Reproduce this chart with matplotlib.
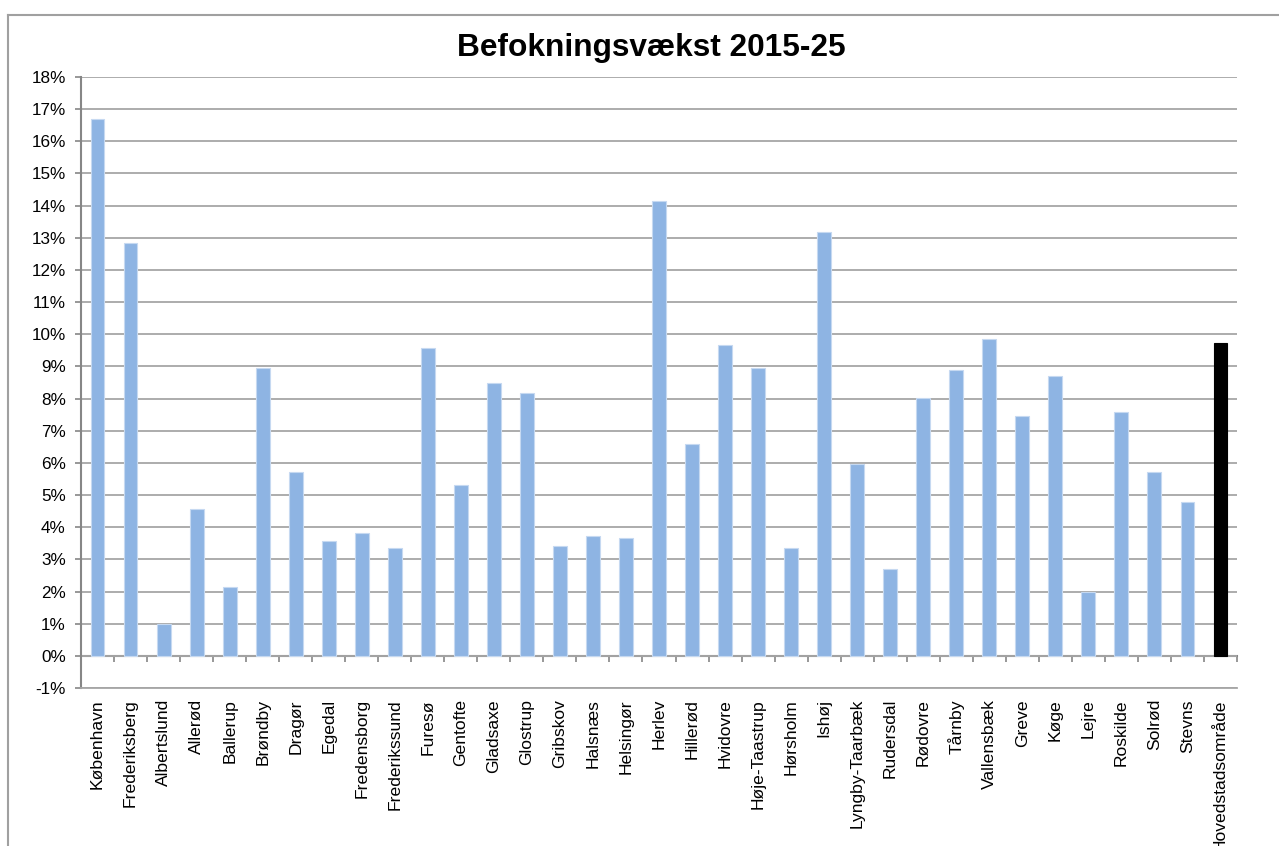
import matplotlib
matplotlib.use("Agg")
import matplotlib.pyplot as plt
from matplotlib.lines import Line2D
import numpy as np

plt.rcParams['font.family'] = ['Liberation Sans', 'DejaVu Sans']

# data (percent)
kommuner = ["København", "Frederiksberg", "Albertslund", "Allerød", "Ballerup",
            "Brøndby", "Dragør", "Egedal", "Fredensborg", "Frederikssund",
            "Furesø", "Gentofte", "Gladsaxe", "Glostrup", "Gribskov",
            "Halsnæs", "Helsingør", "Herlev", "Hillerød", "Hvidovre",
            "Høje-Taastrup", "Hørsholm", "Ishøj", "Lyngby-Taarbæk", "Rudersdal",
            "Rødovre", "Tårnby", "Vallensbæk", "Greve", "Køge",
            "Lejre", "Roskilde", "Solrød", "Stevns", "Hovedstadsområde"]
vaekst = [16.7, 12.85, 1.0, 4.57, 2.13,
          8.96, 5.73, 3.57, 3.81, 3.36,
          9.57, 5.31, 8.49, 8.16, 3.42,
          3.74, 3.65, 14.15, 6.6, 9.67,
          8.94, 3.34, 13.17, 5.98, 2.7,
          8.02, 8.9, 9.86, 7.45, 8.71,
          1.99, 7.58, 5.73, 4.79, 9.72]
total = "Hovedstadsområde"

blue = "#8eb4e3"
grid_col = "#a6a6a6"
axis_col = "#868686"

fig = plt.figure(figsize=(12.79, 8.46), dpi=100)
ax = fig.add_axes([81/1279, 1-688/846, (1237-81)/1279, (688-77)/846])

x = np.arange(len(kommuner))
colors = ["black" if k == total else blue for k in kommuner]
edges = ["black" if k == total else "#c6d9f1" for k in kommuner]
ax.bar(x, vaekst, width=0.42, color=colors, edgecolor=edges, linewidth=0.8, zorder=3)

ax.set_xlim(-0.5, len(kommuner) - 0.5)
ax.set_ylim(-1, 18)
ax.set_yticks(range(-1, 19))
ax.set_yticklabels([f"{v}%" for v in range(-1, 19)])
ax.yaxis.grid(True, color=grid_col, linewidth=1.3, zorder=0)
ax.set_axisbelow(True)

ax.set_xticks(x)
ax.set_xticklabels(kommuner, rotation=90, va="top", ha="center")
ax.tick_params(axis="x", length=0, pad=8, labelsize=12.6)
ax.tick_params(axis="y", direction="out", length=4, width=1.2, color=axis_col,
               pad=7, labelsize=12.3)

for s in ["top", "right"]:
    ax.spines[s].set_visible(False)
ax.spines["left"].set_color(axis_col)
ax.spines["left"].set_linewidth(1.5)
ax.spines["bottom"].set_color(grid_col)
ax.spines["bottom"].set_linewidth(1.3)

# x axis at 0% with tick marks between categories
sec = ax.secondary_xaxis(1/19)
sec.set_xticks(np.arange(-0.5, len(kommuner) + 0.5, 1))
sec.set_xticklabels([])
sec.tick_params(direction="out", length=4, width=1.2, color=axis_col)
sec.spines["bottom"].set_color(axis_col)
sec.spines["bottom"].set_linewidth(1.5)

fig.text(651/1279, 1-56/846, "Befokningsvækst 2015-25", ha="center", va="baseline",
         fontsize=22.8, fontweight="bold")

# chart frame (cropped at right and bottom)
fig.add_artist(Line2D([8/1279, 8/1279], [0, 1-15/846], transform=fig.transFigure,
                      color="#a0a0a0", linewidth=1.5))
fig.add_artist(Line2D([8/1279, 1], [1-15/846, 1-15/846], transform=fig.transFigure,
                      color="#a0a0a0", linewidth=1.5))

fig.savefig("out.png", dpi=100)
